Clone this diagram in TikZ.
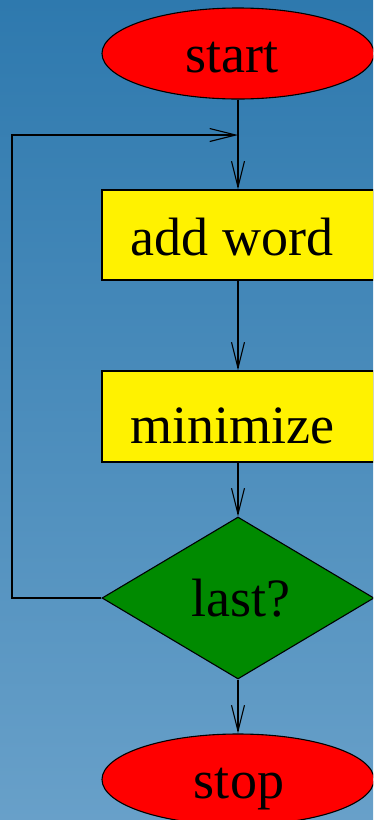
\documentclass[tikz,border=0pt]{standalone}
\usepackage{fontspec}
\setmainfont{Liberation Serif}
\usetikzlibrary{shapes.geometric,arrows.meta}
\definecolor{bgtop}{RGB}{46,121,174}
\definecolor{bgbottom}{RGB}{104,160,201}
\definecolor{deciGreen}{RGB}{0,138,0}
\tikzset{
  base/.style={draw=black, line width=1.1pt, inner sep=0pt, text=black,
    font=\fontsize{54}{60}\selectfont, text depth=0pt},
  terminal/.style={base, ellipse, fill=red, minimum width=272pt, minimum height=91pt},
  process/.style={base, rectangle, fill=yellow, minimum width=272pt, minimum height=90pt},
  decision/.style={base, diamond, fill=deciGreen, aspect=1.68, minimum width=272pt, minimum height=162pt},
  flow/.style={draw=black, line width=1.1pt, -{Straight Barb[length=26pt,width=13pt]}},
  plain/.style={draw=black, line width=1.1pt}
}
\begin{document}
\begin{tikzpicture}[x=1pt,y=-1pt]
  \useasboundingbox (0,0) rectangle (373,820);
  \clip (0,0) rectangle (373,820);
  \shade[top color=bgtop, bottom color=bgbottom] (0,0) rectangle (373,820);

  \node[terminal, text height=37pt] (start) at (238,53.5) {\hspace*{-12pt}start};
  \node[process, text height=40pt] (add) at (238,235) {\hspace*{-12pt}add word};
  \node[process, text height=53pt, minimum height=91pt] (min) at (238,416.5) {\hspace*{-12pt}minimize};
  \node[decision, text height=36pt] (last) at (238,598) {last?\hspace*{-5pt}};
  \node[terminal, text height=37pt] (stop) at (238,779.5) {stop\hspace*{-2pt}};

  \coordinate (join) at (238,135);
  \coordinate (cornerB) at (12,598);
  \coordinate (cornerT) at (12,135);

  \draw[plain] (start.south) -- (join);
  \draw[flow] (join) -- (add.north);
  \draw[flow] (add.south) -- (min.north);
  \draw[flow] (min.south) -- (last.north);
  \draw[flow] (last.south) -- (stop.north);
  \draw[flow] (last.west) -- (cornerB) -- (cornerT) -- (join);
\end{tikzpicture}
\end{document}
